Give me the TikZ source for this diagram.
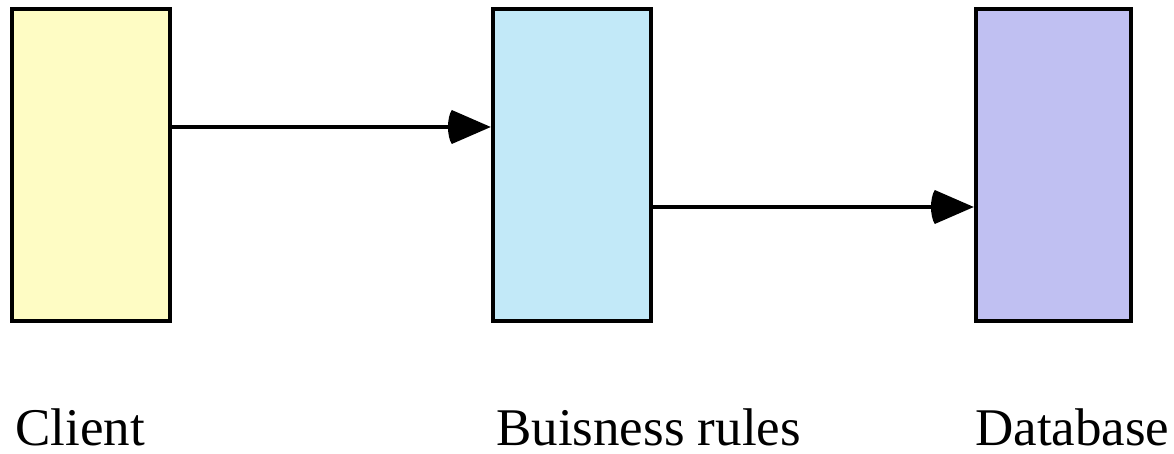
\documentclass[tikz,border=0pt]{standalone}
\usepackage{fontspec}
\setmainfont{Liberation Serif}
\begin{document}
\begin{tikzpicture}[x=1pt,y=1pt,
  tier/.style={draw=black,line width=4.5pt,minimum width=158pt,minimum height=312pt,inner sep=0pt},
  caption/.style={anchor=base west,inner sep=0pt,text depth=0pt,font=\fontsize{53}{58}\selectfont},
  link/.style={line width=4pt},
  head/.style={fill=black}]
\definecolor{clientfill}{HTML}{FEFCC4}
\definecolor{rulesfill}{HTML}{C2E9F8}
\definecolor{dbfill}{HTML}{C0C0F2}
\useasboundingbox (0,0) rectangle (1174,454);
% three tiers
\node[tier,fill=clientfill] (client) at (91,289) {};
\node[tier,fill=rulesfill] (rules) at (572,289) {};
\node[tier,fill=dbfill,minimum width=155pt] (db) at (1053.5,289) {};
% captions
\node[caption] (clientlbl) at (15,8) {Client};
\node[caption] (ruleslbl) at (496,8) {Buisness rules};
\node[caption] (dblbl) at (975,8) {Database};
% connectors with blunt-backed arrowheads
\draw[link] ([yshift=38pt]client.east) -- ([yshift=38pt,xshift=-36pt]rules.west);
\fill[head] ([yshift=38pt]rules.west) -- ++(-39pt,17pt) .. controls ++(-5pt,-8pt) and ++(-5pt,8pt) .. ++(0,-34pt) -- cycle;
\draw[link] ([yshift=-42pt]rules.east) -- ([yshift=-42pt,xshift=-36pt]db.west);
\fill[head] ([yshift=-42pt]db.west) -- ++(-39pt,17pt) .. controls ++(-5pt,-8pt) and ++(-5pt,8pt) .. ++(0,-34pt) -- cycle;
\end{tikzpicture}
\end{document}
